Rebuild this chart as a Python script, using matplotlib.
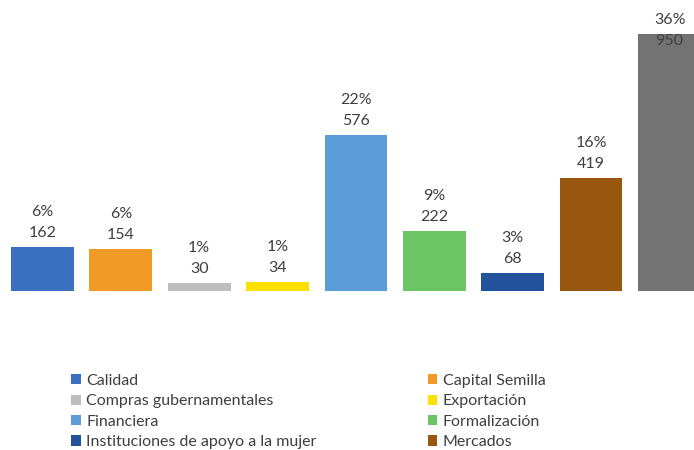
import matplotlib
matplotlib.use("Agg")
import matplotlib.pyplot as plt

categories = ["Calidad", "Capital Semilla", "Compras gubernamentales", "Exportación",
              "Financiera", "Formalización", "Instituciones de apoyo a la mujer",
              "Mercados", "Otros"]
values = [162, 154, 30, 34, 576, 222, 68, 419, 950]
percents = ["6%", "6%", "1%", "1%", "22%", "9%", "3%", "16%", "36%"]
legend_labels = categories[:8]
colors = ["#3b6fbf", "#f29a26", "#bdbdbd", "#fde000", "#5a9bd8",
          "#6cc564", "#22529c", "#99560f", "#737373"]

W, H = 694, 450
fig = plt.figure(figsize=(W / 100, H / 100), dpi=100)
fig.patch.set_facecolor("white")

base_px = 291.0
scale = 0.2705  # px per unit
ytop = base_px / scale
x0 = -42.5 / 78.44
x1 = 8 + (W - 669.5) / 78.44

ax = fig.add_axes([0, (H - base_px) / H, 1, base_px / H])
ax.set_xlim(x0, x1)
ax.set_ylim(0, ytop)
ax.axis("off")

xs = list(range(len(values)))
bars = ax.bar(xs, values, width=0.8, color=colors, edgecolor="none")

tc = "#3f3f3f"
for x, v, p in zip(xs, values, percents):
    yv = v + 14 / scale
    yp = v + 35 / scale
    lim = ytop - 20 / scale
    if yp > lim:
        d = yp - lim
        yp -= d
        yv -= d
    ax.text(x, yv, str(v), ha="center", va="center", fontsize=11.5,
            family="Lato", color=tc, clip_on=False)
    ax.text(x, yp, p, ha="center", va="center", fontsize=11.5,
            family="Lato", color=tc, clip_on=False)

order = [0, 2, 4, 6, 1, 3, 5, 7]
handles = [bars[i] for i in order]
labels = [legend_labels[i] for i in order]
leg = fig.legend(handles, labels, ncol=2, loc="upper left",
                 bbox_to_anchor=(71 / W, 1 - 374 / H),
                 frameon=False,
                 prop={"family": "Lato", "size": 11.5},
                 handlelength=0.6, handleheight=0.6, handletextpad=0.35,
                 labelspacing=0.40, columnspacing=6.95, borderaxespad=0,
                 borderpad=0)
for t in leg.get_texts():
    t.set_color(tc)

fig.savefig("out.png", dpi=100)
